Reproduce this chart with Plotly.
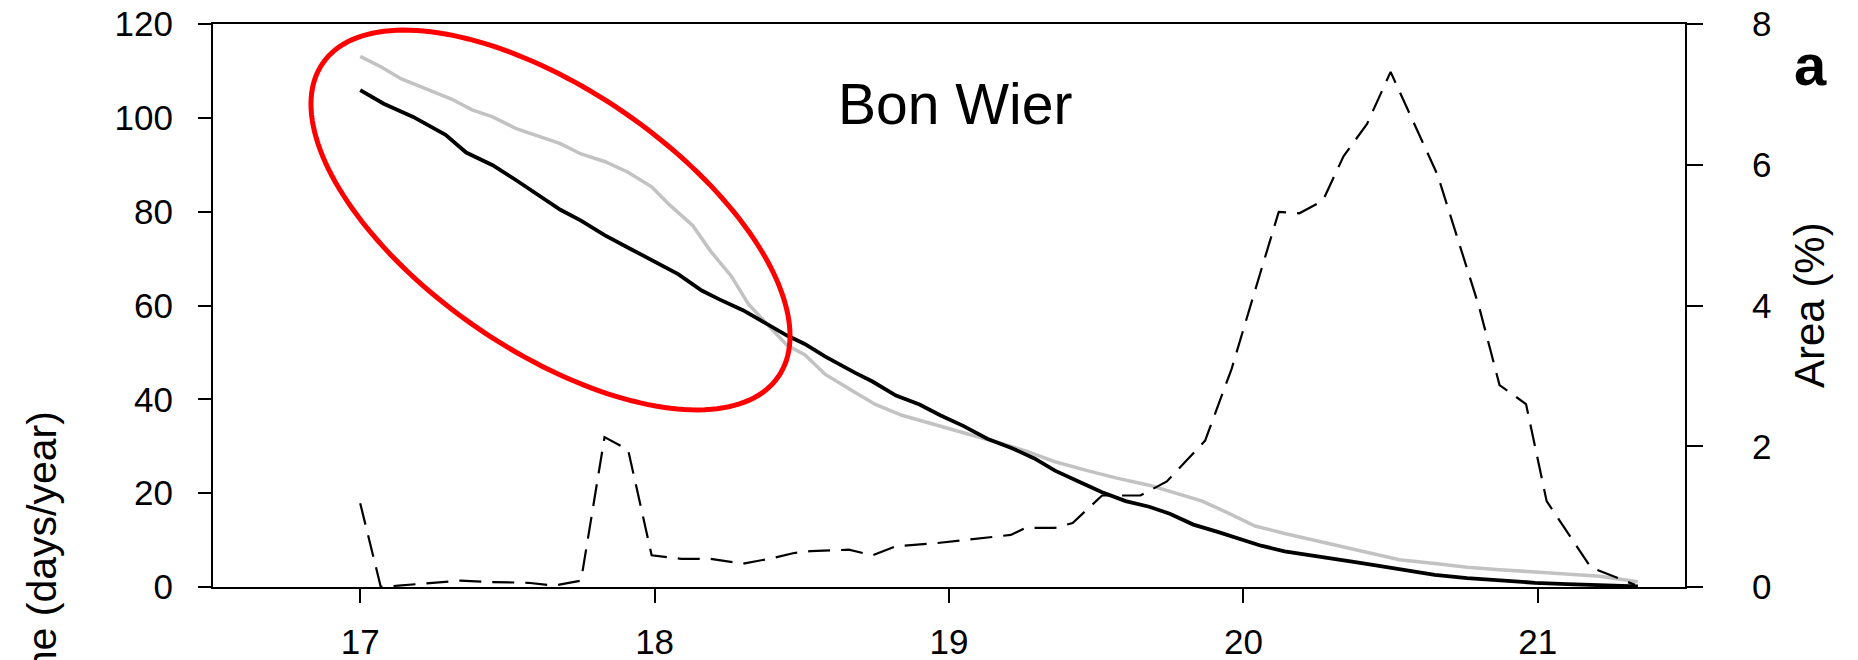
import numpy as np
import plotly.graph_objects as go

# ---- data -------------------------------------------------------------
# elevation positions and inundation duration (days/year), black series
black_x = [17.0, 17.08, 17.18, 17.29, 17.36, 17.45, 17.53, 17.6, 17.68, 17.75,
           17.83, 17.92, 18.0, 18.08, 18.16, 18.22, 18.3, 18.36, 18.45, 18.51,
           18.58, 18.68, 18.74, 18.82, 18.9, 18.97, 19.05, 19.13, 19.21, 19.29,
           19.36, 19.44, 19.52, 19.6, 19.68, 19.75, 19.83, 19.91, 19.99, 20.06,
           20.14, 20.22, 20.3, 20.38, 20.45, 20.53, 20.65, 20.76, 20.87, 20.99,
           21.1, 21.21, 21.34]
black_y = [105.9, 103.0, 100.2, 96.4, 92.6, 89.9, 86.7, 83.8, 80.4, 78.1,
           75.0, 72.0, 69.3, 66.7, 63.2, 61.3, 59.0, 56.8, 53.6, 51.8,
           49.1, 45.7, 43.8, 40.8, 38.9, 36.6, 34.3, 31.6, 29.7, 27.4,
           24.8, 22.5, 20.2, 18.3, 17.1, 15.6, 13.3, 11.8, 10.3, 8.8,
           7.6, 6.9, 6.2, 5.3, 4.6, 3.8, 2.6, 1.9, 1.4, 0.9,
           0.6, 0.4, 0.15]

# grey series (days/year)
grey_x = [17.0, 17.07, 17.14, 17.22, 17.31, 17.38, 17.45, 17.53, 17.6, 17.68,
          17.75, 17.83, 17.91, 17.99, 18.05, 18.13, 18.19, 18.26, 18.32, 18.39,
          18.45, 18.51, 18.58, 18.68, 18.75, 18.84, 18.95, 19.05, 19.16, 19.26,
          19.36, 19.47, 19.57, 19.68, 19.78, 19.86, 19.94, 20.04, 20.14, 20.25,
          20.35, 20.45, 20.53, 20.65, 20.76, 20.87, 20.99, 21.1, 21.21, 21.34]
grey_y = [113.1, 110.9, 108.3, 106.3, 104.0, 101.7, 100.2, 97.7, 96.2, 94.5,
          92.3, 90.7, 88.4, 85.3, 81.5, 77.0, 71.6, 66.3, 60.2, 55.6,
          51.5, 49.5, 45.3, 41.5, 38.9, 36.6, 34.7, 32.8, 30.9, 29.0,
          26.7, 24.8, 23.2, 21.7, 19.8, 18.3, 16.0, 13.0, 11.4, 9.8,
          8.4, 7.0, 5.8, 5.0, 4.2, 3.7, 3.2, 2.7, 2.3, 1.1]

# area share (%) on the right axis, dashed series
area_x = [17.0, 17.07, 17.13, 17.23, 17.34, 17.44, 17.57, 17.66, 17.75, 17.83,
          17.91, 17.99, 18.09, 18.19, 18.3, 18.4, 18.47, 18.53, 18.66, 18.74,
          18.82, 18.95, 19.1, 19.21, 19.26, 19.36, 19.42, 19.52, 19.65, 19.74,
          19.87, 19.96, 20.04, 20.12, 20.19, 20.27, 20.34, 20.42, 20.5, 20.66,
          20.8, 20.87, 20.96, 21.03, 21.18, 21.33]
area_y = [1.19, 0.0, 0.02, 0.05, 0.09, 0.07, 0.06, 0.02, 0.09, 2.13,
          1.95, 0.45, 0.4, 0.4, 0.33, 0.41, 0.48, 0.51, 0.53, 0.45,
          0.58, 0.62, 0.69, 0.74, 0.84, 0.84, 0.91, 1.3, 1.3, 1.5,
          2.08, 3.1, 4.22, 5.33, 5.31, 5.49, 6.12, 6.58, 7.32, 5.85,
          3.99, 2.87, 2.6, 1.22, 0.28, 0.03]

x_ticks = [17, 18, 19, 20, 21]
y_ticks = [0, 20, 40, 60, 80, 100, 120]
y2_ticks = [0, 2, 4, 6, 8]

# ---- layout geometry ---------------------------------------------------
FIG_W, FIG_H = 1858, 660
M_L, M_R, M_T, M_B = 213, 173, 24, 73
PLOT_W = FIG_W - M_L - M_R
PLOT_H = FIG_H - M_T - M_B
FONT = "Liberation Sans, Arial, Helvetica, sans-serif"


def px_x(px):
    return (px - M_L) / PLOT_W


def px_y(py):
    return (FIG_H - M_B - py) / PLOT_H


fig = go.Figure()

fig.add_trace(go.Scatter(x=grey_x, y=grey_y, mode="lines",
                         line=dict(color="#c2c2c2", width=3.5),
                         showlegend=False, hoverinfo="skip"))
fig.add_trace(go.Scatter(x=black_x, y=black_y, mode="lines",
                         line=dict(color="black", width=3.8),
                         showlegend=False, hoverinfo="skip"))
fig.add_trace(go.Scatter(x=area_x, y=area_y, mode="lines", yaxis="y2",
                         line=dict(color="black", width=2.2, dash="22px,11px"),
                         showlegend=False, hoverinfo="skip"))

# red highlight ellipse around the upper-left part of the curves
cx, cy, a, b, theta = 550.5, 220.0, 276.5, 130.3, np.radians(34.5)
t = np.linspace(0, 2 * np.pi, 181)
ex = cx + a * np.cos(theta) * np.cos(t) - b * np.sin(theta) * np.sin(t)
ey = cy + a * np.sin(theta) * np.cos(t) + b * np.cos(theta) * np.sin(t)
path = "M " + " L ".join(f"{px_x(u):.5f},{px_y(v):.5f}" for u, v in zip(ex, ey)) + " Z"
fig.add_shape(type="path", path=path, xref="paper", yref="paper",
              line=dict(color="#ff0000", width=5))

axis_common = dict(showgrid=False, zeroline=False, showline=True,
                   linecolor="black", linewidth=2, ticks="outside",
                   tickcolor="black", tickwidth=2,
                   tickfont=dict(family=FONT, size=35, color="black"))

fig.update_layout(
    width=FIG_W, height=FIG_H,
    margin=dict(l=M_L, r=M_R, t=M_T, b=M_B, autoexpand=False),
    paper_bgcolor="white", plot_bgcolor="white",
    xaxis=dict(range=[16.5, 21.5], tickvals=x_ticks, ticklen=14, mirror=True,
               ticklabelstandoff=9, **axis_common),
    yaxis=dict(range=[0, 120], tickvals=y_ticks, ticklen=13,
               ticklabelstandoff=18, **axis_common),
    yaxis2=dict(range=[0, 8], tickvals=y2_ticks, ticklen=16, overlaying="y",
                side="right", ticklabelstandoff=42, **axis_common),
)

annotations = [
    dict(text="Bon Wier", x=px_x(955), y=px_y(104), xanchor="center", yanchor="middle",
         font=dict(family=FONT, size=57, color="black")),
    dict(text="<b>a</b>", x=px_x(1810), y=px_y(64), xanchor="center", yanchor="middle",
         font=dict(family=FONT, size=58, color="black")),
    dict(text="Area (%)", x=px_x(1809), y=px_y(305), textangle=-90,
         xanchor="center", yanchor="middle",
         font=dict(family=FONT, size=42, color="black")),
    dict(text="Inundation time (days/year)", x=px_x(41.5), y=px_y(409), textangle=-90,
         xanchor="center", yanchor="top",
         font=dict(family=FONT, size=41, color="black")),
]
for ann in annotations:
    fig.add_annotation(xref="paper", yref="paper", showarrow=False, **ann)

fig.write_html("out.html")
